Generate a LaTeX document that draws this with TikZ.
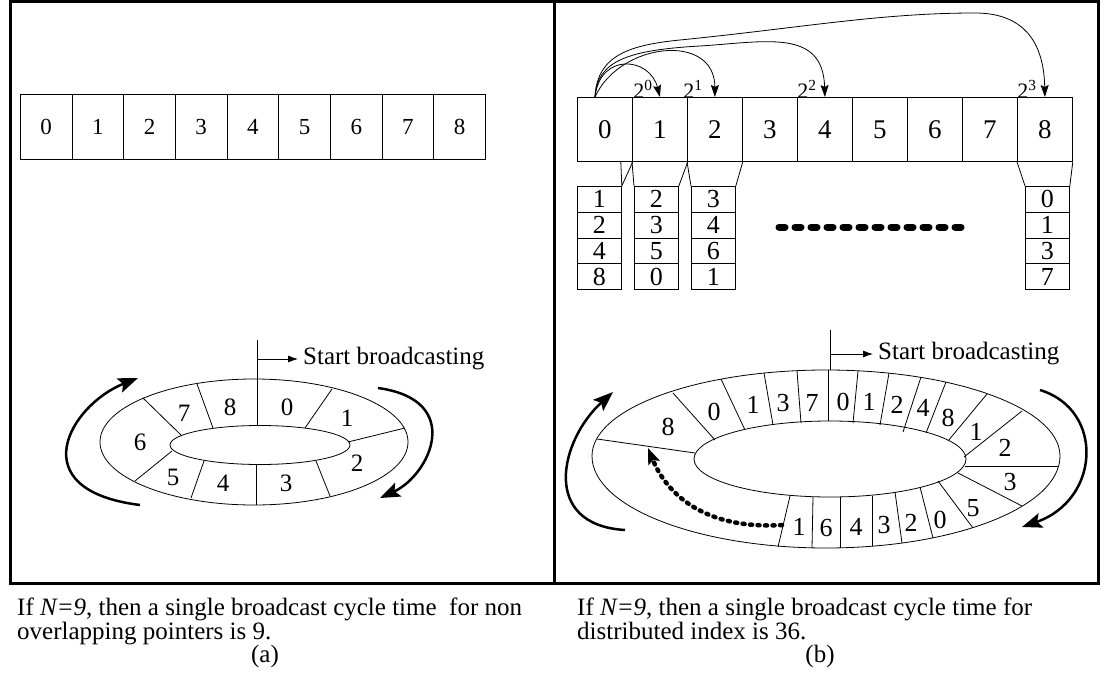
\documentclass[tikz,border=0pt]{standalone}
\usepackage{fontspec}
\setmainfont{Liberation Serif}
\usetikzlibrary{arrows.meta,calc,positioning}

\tikzset{CELLA/.style={rectangle,draw,line width=0.8pt,minimum width=51.67pt,minimum height=65pt,inner sep=0pt,anchor=north west,font=\fontsize{23}{23}\selectfont}}
\tikzset{CELLB/.style={rectangle,draw,line width=0.8pt,minimum width=55pt,minimum height=64pt,inner sep=0pt,anchor=north west,font=\fontsize{27}{27}\selectfont}}
\tikzset{SLOT/.style={rectangle,draw,line width=0.8pt,minimum width=44pt,minimum height=25.75pt,inner sep=0pt,anchor=north west,font=\fontsize{26}{26}\selectfont}}
\tikzset{RING/.style={line width=0.8pt}}
\tikzset{LABA/.style={inner sep=0pt,font=\fontsize{25}{25}\selectfont}}
\tikzset{LABB/.style={inner sep=0pt,font=\fontsize{26}{26}\selectfont}}
\tikzset{EXP/.style={inner sep=0pt,anchor=base,font=\fontsize{22}{22}\selectfont}}
\tikzset{TEXT/.style={inner sep=0pt,anchor=west,font=\fontsize{25}{25}\selectfont}}
\tikzset{CAPTION/.style={inner sep=0pt,anchor=base west,font=\fontsize{25}{25}\selectfont}}
\tikzset{ARROW/.style={line width=0.8pt,-{Stealth[length=12pt,width=8pt,inset=2pt]}}}
\tikzset{START/.style={line width=0.8pt,-{Latex[length=10pt,width=7pt]}}}
\tikzset{SPIN/.style={line width=2.5pt,-{Stealth[length=20pt,width=15pt,inset=4pt]}}}
\tikzset{DOTARROW/.style={line width=4.5pt,line cap=round,dash pattern=on 2pt off 5.5pt,-{Stealth[length=16pt,width=12pt,inset=3pt]}}}
\tikzset{DOTS/.style={line width=7pt,line cap=round,dash pattern=on 6pt off 10pt}}

\begin{document}
\begin{tikzpicture}[x=1pt,y=-1pt]

\useasboundingbox (0,0) rectangle (1114,682);
\draw[line width=3pt] (10,2) rectangle (1098,583);
\draw[line width=3pt] (554,2) -- (554,583);

% (a) broadcast order without pointers
\foreach \d in {0,...,8}
  \node[CELLA] (a\d) at ({20+51.67*\d},94) {\d};

\draw[RING] (254,442) ellipse [x radius=154, y radius=63];
\draw[RING] (260,445) ellipse [x radius=90, y radius=19.5];
\foreach \xa/\ya/\xb/\yb in {257/379/257/426, 332/389/305/428, 405/428/348/442,
    330/496/316/461, 256/505/256/465, 191/498/204/461, 135/481/172/451,
    143/398/182/436, 197/384/213/428}
  \draw[RING] (\xa,\ya) -- (\xb,\yb);
\foreach \x/\y/\t in {287/407/0, 347/418/1, 357/463/2, 286/483/3, 223/483/4,
    173/477/5, 140/442/6, 184/413/7, 230/407/8}
  \node[LABA] (ra\t) at (\x,\y) {\t};

\coordinate (sa) at (257,340);
\draw[RING] (sa) -- (257,379);
\node[TEXT] (ta) at (303,359) {Start broadcasting};
\draw[START] (257,359) -- ([xshift=-5pt]ta.west);

\draw[SPIN] (140,505) .. controls (20,490) and (70,405) .. (138,378);
\draw[SPIN] (378,388) .. controls (465,400) and (430,475) .. (380,498);

% (b) distributed index
\foreach \d in {0,...,8}
  \node[CELLB] (b\d) at ({577+55*\d},97) {\d};

\foreach \c/\x/\vals in {0/577/{1,2,4,8}, 1/634/{2,3,5,0}, 2/691/{3,4,6,1}, 8/1025/{0,1,3,7}}
  \foreach \v [count=\r] in \vals
    \node[SLOT] (l\c-\r) at (\x,{186+25.75*(\r-1)}) {\v};

\draw[RING] ($(b0.south east)+(-12,0)$) -- (l0-1.north east) -- (b0.south east);
\foreach \c in {1,2,8}
  \draw[RING] (b\c.south west) -- (l\c-1.north west) (b\c.south east) -- (l\c-1.north east);

\coordinate (src) at ($(b0.north west)+(18,0)$);
\draw[ARROW] (src) .. controls +(5,-45) and +(-10,-40) .. (b1.north);
\draw[ARROW] (src) .. controls +(25,-55) and +(0,-65) .. (b2.north);
\draw[ARROW] (src) .. controls (597,60) and (630,50) .. (700,46) .. controls (765,42) and (823,28) .. (b4.north);
\draw[ARROW] (src) .. controls (597,55) and (630,45) .. (680,40) .. controls (800,28) and (880,13) .. (975,13) .. controls (1030,13) and (1044,50) .. (b8.north);
\foreach \c/\e/\dx in {1/0/11, 2/1/6, 4/2/10, 8/3/10}
  \node[EXP] (e\e) at ($(b\c.north west)+(\dx,1.5)$) {2\textsuperscript{\e}};

\draw[DOTS] (779,227) -- (966,227);

\draw[RING] (592,456) arc[start angle=180, end angle=360, x radius=234, y radius=86]
  arc[start angle=0, end angle=180, x radius=234, y radius=92];
\draw[RING] (830,459) ellipse [x radius=136, y radius=38];
\foreach \xa/\ya/\xb/\yb in {597/439/695/453, 673/393/715/440, 721/379/745/430,
    764/373/773/425, 797/371/801/423, 828/370/828/421, 858/371/853/423,
    889/373/880/425, 921/377/903/432, 946/382/926/433, 987/394/948/441,
    1022/411/964/457, 1058/466/965/466, 1022/506/958/473, 973/528/938/481,
    933/538/920/487, 902/543/895/492, 872/546/872/496, 840/548/840/497,
    812/548/813/497, 778/547/790/496}
  \draw[RING] (\xa,\ya) -- (\xb,\yb);
\foreach \x/\y/\t [count=\i] in {668/427/8, 714/412/0, 753/405/1, 783/403/3,
    812/403/7, 843/402/0, 869/402/1, 897/405/2, 923/408/4, 948/418/8,
    976/432/1, 1005/448/2, 1010/482/3, 973/508/5, 940/520/0, 911/523/2,
    884/525/3, 856/527/4, 826/528/6, 799/527/1}
  \node[LABB] (rb\i) at (\x,\y) {\t};

\coordinate (sb) at (830,330);
\draw[RING] (sb) -- (830,370);
\node[TEXT] (tb) at (878,354) {Start broadcasting};
\draw[START] (830,354) -- ([xshift=-5pt]tb.west);

\draw[SPIN] (625,530) .. controls (540,525) and (560,440) .. (613,392);
\draw[SPIN] (1040,390) .. controls (1105,410) and (1100,500) .. (1022,527);
\draw[DOTARROW] (782,525) .. controls (700,530) and (665,490) .. (648,448);

% captions
\node[CAPTION] (capa1) at (17,615) {If \textit{N=9}, then a single broadcast cycle time\ \ for non};
\node[CAPTION] (capa2) at (17,639) {overlapping pointers is 9.};
\node[CAPTION,anchor=base] (capa) at (265,662) {(a)};
\node[CAPTION] (capb1) at (577,615) {If \textit{N=9}, then a single broadcast cycle time for};
\node[CAPTION] (capb2) at (577,639) {distributed index is 36.};
\node[CAPTION,anchor=base] (capb) at (820,662) {(b)};

\end{tikzpicture}
\end{document}
